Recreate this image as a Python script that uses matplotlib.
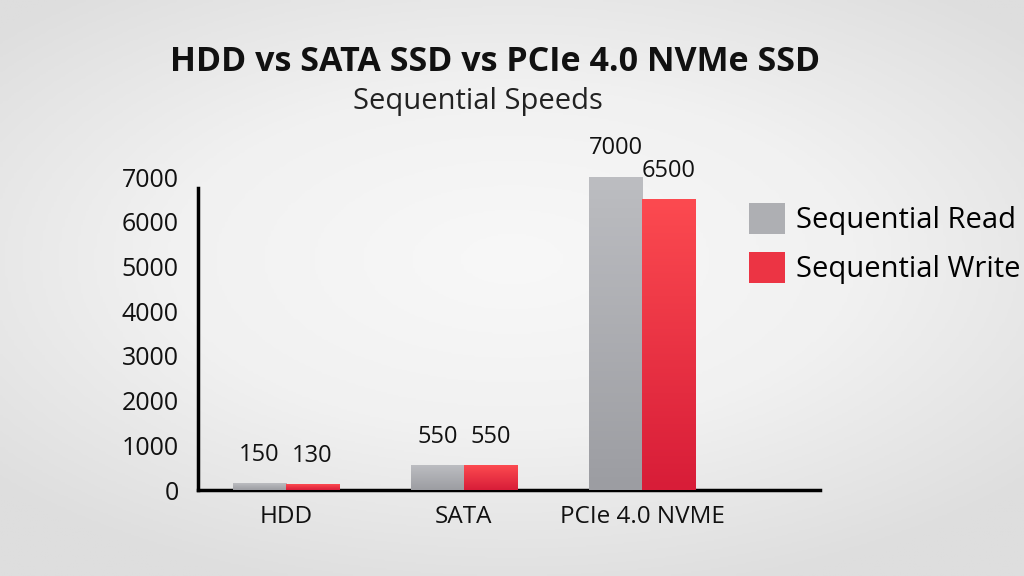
import matplotlib
matplotlib.use("Agg")
import matplotlib.pyplot as plt
import numpy as np
from matplotlib.colors import LinearSegmentedColormap
from matplotlib.patches import Patch

categories = ["HDD", "SATA", "PCIe 4.0 NVME"]
read_speed = [150, 550, 7000]
write_speed = [130, 550, 6500]
series_names = ["Sequential Read", "Sequential Write"]
y_ticks = [0, 1000, 2000, 3000, 4000, 5000, 6000, 7000]

plt.rcParams['font.family'] = ['Open Sans', 'DejaVu Sans']

fig = plt.figure(figsize=(10.24, 5.76), dpi=100)

# light background with a soft radial gradient
bg = fig.add_axes([0, 0, 1, 1], zorder=-5)
yy, xx = np.mgrid[0:1:200j, 0:1:360j]
r = np.sqrt(((xx - 0.5) / 0.9) ** 2 + ((yy - 0.45) / 0.8) ** 2)
bg.imshow(r, cmap=LinearSegmentedColormap.from_list("bg", ["#f8f8f8", "#f1f1f1", "#dedede"]),
          extent=[0, 1, 0, 1], aspect='auto', vmin=0, vmax=0.75)
bg.axis('off')

ax = fig.add_axes([0.1934, 0.1493, 0.6074, 0.5898])
ax.patch.set_alpha(0)

x = np.arange(len(categories))
w = 0.298
grey_cm = LinearSegmentedColormap.from_list("g", ["#9c9da2", "#bcbdc1"])
red_cm = LinearSegmentedColormap.from_list("r", ["#d81d38", "#fc4a50"])

b1 = ax.bar(x - w / 2, read_speed, w, color="#aeafb3", zorder=2)
b2 = ax.bar(x + w / 2, write_speed, w, color="#ec3444", zorder=2)

grad = np.linspace(0, 1, 100).reshape(-1, 1)
for bars, cm in [(b1, grey_cm), (b2, red_cm)]:
    for p in bars:
        x0, y0 = p.get_x(), p.get_y()
        im = ax.imshow(grad, cmap=cm, origin='lower', aspect='auto', zorder=3,
                       extent=[x0, x0 + p.get_width(), y0, y0 + p.get_height()])
        im.set_clip_path(p)

for bars, vals in [(b1, read_speed), (b2, write_speed)]:
    for p, v in zip(bars, vals):
        ax.annotate(str(v), (p.get_x() + p.get_width() / 2, p.get_height()),
                    xytext=(0, 12), textcoords='offset points', ha='center', va='bottom',
                    fontsize=17, color="#111111")

ax.set_xlim(-0.494, 3.0)
ax.set_ylim(0, 7600)
ax.set_yticks(y_ticks)
ax.set_yticklabels([str(t) for t in y_ticks], fontsize=18, color="#111111")
ax.set_xticks(x)
ax.set_xticklabels(categories, fontsize=17.5, color="#111111")
ax.tick_params(axis='both', length=0)
ax.tick_params(axis='y', pad=14)
ax.tick_params(axis='x', pad=11)
for s in ['top', 'right']:
    ax.spines[s].set_visible(False)
ax.spines['left'].set_linewidth(2.5)
ax.spines['bottom'].set_linewidth(2.5)
ax.spines['left'].set_bounds(0, 6750)

handles = [Patch(facecolor="#aeafb3"), Patch(facecolor="#ec3444")]
fig.legend(handles, series_names, loc='upper left', bbox_to_anchor=(0.731, 0.647),
           frameon=False, handlelength=1.24, handleheight=1.24,
           handletextpad=0.38, labelspacing=0.57, borderpad=0, borderaxespad=0,
           prop={'family': 'Open Sans', 'size': 21})

fig.text(0.483, 0.893, "HDD vs SATA SSD vs PCIe 4.0 NVMe SSD", ha='center', va='center',
         fontsize=24.5, fontweight='bold', family='Open Sans', color="#111111")
fig.text(0.467, 0.823, "Sequential Speeds", ha='center', va='center',
         fontsize=21, family='Open Sans', color="#222222")

fig.savefig("out.png", dpi=100)
